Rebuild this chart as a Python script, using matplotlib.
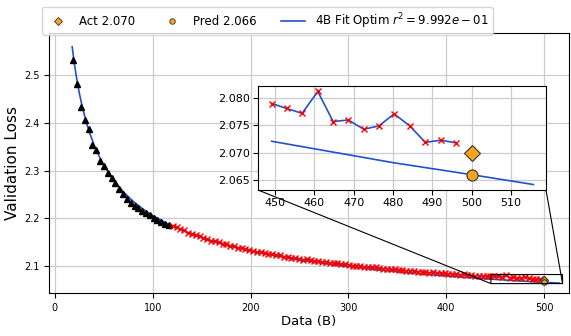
import matplotlib
matplotlib.use("Agg")
import matplotlib.pyplot as plt
from matplotlib.lines import Line2D
import numpy as np

# ---- data ----
tri_x = [18.8, 22.7, 26.6, 30.5, 34.4, 38.4, 42.3, 46.2, 50.1, 54.0, 57.9, 61.8, 65.7,
         69.7, 73.6, 77.5, 81.4, 85.3, 89.2, 93.1, 97.0, 100.9, 104.8, 108.8, 112.7, 116.6]
tri_y = [2.531, 2.482, 2.434, 2.406, 2.387, 2.353, 2.343, 2.320, 2.310, 2.294, 2.284, 2.274, 2.261,
         2.250, 2.240, 2.233, 2.226, 2.221, 2.216, 2.210, 2.206, 2.200, 2.197, 2.192, 2.189, 2.185]

cross_x = [120.5, 124.4, 128.3, 132.2, 136.2, 140.1, 144.0, 147.9, 151.8, 155.7, 159.6, 163.5,
           167.5, 171.4, 175.3, 179.2, 183.1, 187.0, 190.9, 194.8, 198.7, 202.7, 206.6, 210.5,
           214.4, 218.3, 222.2, 226.1, 230.0, 234.0, 237.9, 241.8, 245.7, 249.6, 253.5, 257.4,
           261.3, 265.3, 269.2, 273.1, 277.0, 280.9, 284.8, 288.7, 292.6, 296.6, 300.5, 304.4,
           308.3, 312.2, 316.1, 320.0, 323.9, 327.8, 331.8, 335.7, 339.6, 343.5, 347.4, 351.3,
           355.2, 359.1, 363.1, 367.0, 370.9, 374.8, 378.7, 382.6, 386.5, 390.4, 394.4, 398.3,
           402.2, 406.1, 410.0, 413.9, 417.8, 421.7, 425.6, 429.6, 433.5, 437.4, 441.3, 445.2,
           449.2, 453.0, 456.9, 460.9, 464.8, 468.6, 472.6, 476.4, 480.3, 484.3, 488.2, 492.2, 496.1]
cross_y = [2.1829, 2.1813, 2.1769, 2.1747, 2.1695, 2.1681, 2.1642, 2.1624, 2.1588, 2.1572, 2.1527, 2.1522,
           2.1507, 2.1466, 2.1454, 2.1424, 2.1424, 2.1385, 2.1376, 2.1347, 2.1339, 2.1321, 2.1295, 2.1299,
           2.1274, 2.1258, 2.1254, 2.1229, 2.1226, 2.1198, 2.1194, 2.1171, 2.1168, 2.1155, 2.1134, 2.1141,
           2.1121, 2.1108, 2.1106, 2.1086, 2.1085, 2.1065, 2.1065, 2.1054, 2.1034, 2.1034, 2.1026, 2.1006,
           2.1006, 2.1007, 2.0979, 2.0980, 2.0971, 2.0973, 2.0954, 2.0946, 2.0948, 2.0930, 2.0933, 2.0915,
           2.0918, 2.0901, 2.0903, 2.0896, 2.0880, 2.0883, 2.0876, 2.0860, 2.0873, 2.0857, 2.0850, 2.0844,
           2.0837, 2.0841, 2.0825, 2.0819, 2.0823, 2.0808, 2.0812, 2.0797, 2.0801, 2.0786, 2.0791, 2.0786,
           2.0790, 2.0781, 2.0772, 2.0812, 2.0757, 2.0760, 2.0743, 2.0749, 2.0771, 2.0749, 2.0719, 2.0723, 2.0718]

fit_x = [17.7, 20, 22, 25, 28, 32, 36, 40, 45, 50, 60, 70, 80, 90, 100, 120, 140, 160, 180,
         200, 240, 280, 320, 360, 400, 440, 449.2, 480, 500, 515.7]
fit_y = [2.5592, 2.5228, 2.4960, 2.4619, 2.4334, 2.4021, 2.3760, 2.3541, 2.3309, 2.3113,
         2.2797, 2.2553, 2.2356, 2.2193, 2.2056, 2.1834, 2.1662, 2.1524, 2.1410, 2.1313,
         2.1157, 2.1037, 2.0940, 2.0859, 2.0791, 2.0733, 2.0721, 2.0682, 2.0660, 2.0642]

act_x, act_y = 500, 2.070
pred_x, pred_y = 500, 2.066
r2_label = r"4B Fit Optim $r^2 = 9.992e-01$"

BLUE = "#2152cc"
ORANGE = "#f5a31a"

fig = plt.figure(figsize=(5.71, 3.36), dpi=100)
ax = fig.add_axes([49/571, 43/336, 520/571, 260/336])


def sel(xs, ys, lo):
    pts = [(x, y) for x, y in zip(xs, ys) if x >= lo]
    return [p[0] for p in pts], [p[1] for p in pts]


def draw(a, inset=False):
    lo = 449 if inset else -1e9
    cx, cy = sel(cross_x, cross_y, lo)
    fx, fy = sel(fit_x, fit_y, lo)
    a.plot(cx, cy, color=BLUE, lw=1.2, zorder=2)
    a.plot(fx, fy, color=BLUE, lw=1.2, zorder=2)
    if not inset:
        a.plot(tri_x, tri_y, ls="none", marker="^", color="black", ms=5, zorder=3)
    a.plot(cx, cy, ls="none", marker="x", color="red", ms=4.5, mew=1.0, zorder=3)
    a.plot([act_x], [act_y], ls="none", marker="D", mfc=ORANGE, mec="#333333",
           ms=(8 if inset else 4), mew=0.8, zorder=4)
    a.plot([pred_x], [pred_y], ls="none", marker="o", mfc=ORANGE, mec="#333333",
           ms=(8 if inset else 4), mew=0.8, zorder=4)


draw(ax)
ax.set_xlim(-6, 525.5)
ax.set_ylim(2.0435, 2.588)
ax.set_xticks([0, 100, 200, 300, 400, 500])
ax.set_yticks([2.1, 2.2, 2.3, 2.4, 2.5])
ax.tick_params(labelsize=7)
ax.grid(True, color="#cccccc", lw=0.9)
ax.set_axisbelow(True)
ax.set_xlabel("Data (B)", fontsize=9.5, labelpad=2)
ax.set_ylabel("Validation Loss", fontsize=11, labelpad=3)

axins = ax.inset_axes([209/520, 103/260, 288/520, 104/260])
draw(axins, inset=True)
axins.set_xlim(445.7, 518.9)
axins.set_ylim(2.0632, 2.0822)
axins.set_xticks([450, 460, 470, 480, 490, 500, 510])
axins.set_yticks([2.065, 2.070, 2.075, 2.080])
axins.set_yticklabels(["2.065", "2.070", "2.075", "2.080"])
axins.tick_params(labelsize=8, pad=2)
axins.grid(True, color="#cccccc", lw=0.9)
axins.set_axisbelow(True)

ind = ax.indicate_inset_zoom(axins, edgecolor="black", alpha=1.0, lw=0.8)
try:
    cons = ind.connectors
except AttributeError:
    cons = ind[1]
for i, c in enumerate(cons):
    c.set_visible(i in (0, 2))
    c.set_linewidth(0.8)
    c.set_alpha(1.0)

handles = [
    Line2D([], [], ls="none", marker="D", mfc=ORANGE, mec="#333333", ms=4, mew=0.6),
    Line2D([], [], ls="none", marker="o", mfc=ORANGE, mec="#333333", ms=4, mew=0.6),
    Line2D([], [], color=BLUE, lw=1.2),
]
labels = [f"Act {act_y:.3f}", f"Pred {pred_y:.3f}", r2_label]
fig.legend(handles, labels, loc="upper left", bbox_to_anchor=(36/571, 0.997), ncol=3,
           fontsize=8.5, frameon=True, columnspacing=2.1, handletextpad=0.8,
           borderpad=0.35, fancybox=True)

fig.savefig("out.png", dpi=100)
